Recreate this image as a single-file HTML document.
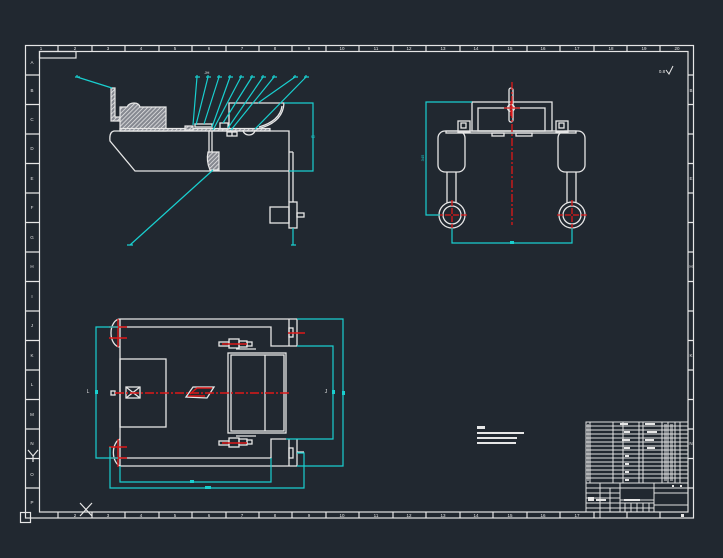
<!DOCTYPE html>
<html><head><meta charset="utf-8"><style>
html,body{margin:0;padding:0;background:#212830;}
svg{display:block;}
text{font-family:"Liberation Sans",sans-serif;}
</style></head><body>
<svg width="723" height="558" viewBox="0 0 723 558" xmlns="http://www.w3.org/2000/svg">
<defs>
<pattern id="h" width="3" height="3" patternUnits="userSpaceOnUse" patternTransform="rotate(45)">
<rect width="3" height="3" fill="#858890"/>
<line x1="0" y1="0" x2="0" y2="3" stroke="#ececec" stroke-width="1.5"/>
</pattern>
</defs>
<rect width="723" height="558" fill="#212830"/>

<!-- FRAME -->
<g fill="none" stroke="#e6e6e6" stroke-width="1.2">
<rect x="25.5" y="45.5" width="668" height="472.5"/>
<rect x="39.5" y="51.5" width="648.5" height="460.5"/>
<rect x="39.5" y="51.5" width="36.5" height="6.5"/>
<rect x="20.5" y="512.5" width="10" height="10"/>
<path d="M58,45.5V51.5M92,45.5V51.5M125,45.5V51.5M159,45.5V51.5M192,45.5V51.5M226,45.5V51.5M259,45.5V51.5M292,45.5V51.5M326,45.5V51.5M359,45.5V51.5M393,45.5V51.5M426,45.5V51.5M460,45.5V51.5M493,45.5V51.5M527,45.5V51.5M560,45.5V51.5M594,45.5V51.5M627,45.5V51.5M660,45.5V51.5"/>
<path d="M58,512V518M92,512V518M125,512V518M159,512V518M192,512V518M226,512V518M259,512V518M292,512V518M326,512V518M359,512V518M393,512V518M426,512V518M460,512V518M493,512V518M527,512V518M560,512V518M594,512V518M627,512V518M660,512V518"/>
<path d="M25.5,75H39.5M25.5,104.5H39.5M25.5,134H39.5M25.5,163.5H39.5M25.5,193H39.5M25.5,222.5H39.5M25.5,252H39.5M25.5,281.5H39.5M25.5,311H39.5M25.5,340.5H39.5M25.5,370H39.5M25.5,399.5H39.5M25.5,429H39.5M25.5,458.5H39.5M25.5,488H39.5"/>
<path d="M688,75H693.5M688,104.5H693.5M688,134H693.5M688,163.5H693.5M688,193H693.5M688,222.5H693.5M688,252H693.5M688,281.5H693.5M688,311H693.5M688,340.5H693.5M688,370H693.5M688,399.5H693.5M688,429H693.5M688,458.5H693.5M688,488H693.5"/>
<path d="M80,503L92,516M92,503L80,516M28,450L33,456L38,450M33,456V462"/>
</g>
<g fill="#e6e6e6" font-size="4.5" text-anchor="middle">
<text x="41" y="50">1</text><text x="75" y="50">2</text><text x="108" y="50">3</text><text x="141" y="50">4</text><text x="175" y="50">5</text><text x="209" y="50">6</text><text x="242" y="50">7</text><text x="275" y="50">8</text><text x="309" y="50">9</text><text x="342" y="50">10</text><text x="376" y="50">11</text><text x="409" y="50">12</text><text x="443" y="50">13</text><text x="476" y="50">14</text><text x="510" y="50">15</text><text x="543" y="50">16</text><text x="577" y="50">17</text><text x="611" y="50">18</text><text x="644" y="50">19</text><text x="677" y="50">20</text>
<text x="75" y="517">2</text><text x="108" y="517">3</text><text x="141" y="517">4</text><text x="175" y="517">5</text><text x="209" y="517">6</text><text x="242" y="517">7</text><text x="275" y="517">8</text><text x="309" y="517">9</text><text x="342" y="517">10</text><text x="376" y="517">11</text><text x="409" y="517">12</text><text x="443" y="517">13</text><text x="476" y="517">14</text><text x="510" y="517">15</text><text x="543" y="517">16</text><text x="577" y="517">17</text>
<text x="32" y="64">A</text><text x="32" y="92">B</text><text x="32" y="121">C</text><text x="32" y="150">D</text><text x="32" y="180">E</text><text x="32" y="209">F</text><text x="32" y="239">G</text><text x="32" y="268">H</text><text x="32" y="298">I</text><text x="32" y="327">J</text><text x="32" y="357">K</text><text x="32" y="386">L</text><text x="32" y="416">M</text><text x="32" y="445">N</text><text x="32" y="476">O</text><text x="32" y="504">P</text>
<text x="691" y="92">B</text><text x="691" y="180">E</text><text x="691" y="268">H</text><text x="691" y="357">K</text><text x="691" y="445">N</text>
<text x="662" y="73">0.8</text>
</g>
<path d="M666,70L669,74L673,66" fill="none" stroke="#e6e6e6" stroke-width="1"/>

<!-- SIDE VIEW -->
<g stroke="#e6e6e6" stroke-width="1.2">
<path d="M111,88H115V117H120V121H111Z" fill="url(#h)"/>
<path d="M120,131V107H127Q129,103 134,103Q139,103 140,107H166V131Z" fill="url(#h)"/>
<rect x="120" y="128.5" width="150" height="2.5" fill="url(#h)"/>
<rect x="185" y="126" width="8" height="4" fill="url(#h)"/>
<path d="M208,152H219V170H210Q206,161 208,152Z" fill="url(#h)"/>
</g>
<g fill="none" stroke="#e6e6e6" stroke-width="1.3">
<path d="M114,131H289V171H135L110,141Q109,132 114,131Z"/>
<path d="M209,131V152M212,131V152"/>
<path d="M229,129V103H284Q283,123 257,129"/>
<path d="M282,106Q280,121 259,127"/>
<rect x="220" y="123" width="8" height="6"/>
<rect x="195" y="124" width="17" height="3"/>
<rect x="227" y="132" width="10" height="4"/>
<path d="M232,132V136"/>
<path d="M243,130A6,5 0 0 0 255,130"/>
<path d="M289,171V202M293,152V202M289,152H293"/>
<rect x="289" y="202" width="8" height="26"/>
<rect x="270" y="207" width="19" height="16"/>
<rect x="297" y="213" width="7" height="4"/>
</g>
<g fill="none" stroke="#19cfcf" stroke-width="1.2">
<path d="M77,77L112,88M75,77H80M77,75V77"/>
<path d="M197,77L193,125M208,77L196,125M219,77L204,124M230,77L212,127M241,77L213,130M252,77L223,123M263,77L228,128M274,77L231,130M295,77L258,103M306,77L255,129"/>
<path d="M195,77H200M206,77H211M217,77H222M228,77H233M239,77H244M250,77H255M261,77H266M272,77H277M293,77H298M304,77H309"/>
<path d="M197,75V77M208,75V77M219,75V77M230,75V77M241,75V77M252,75V77M263,75V77M274,75V77M295,75V77M306,75V77"/>
<path d="M130,245L213,170M127,245H133M293,245L293,228M291,245H296"/>
<path d="M284,103H313V171H289"/>
</g>
<text x="207" y="74" fill="#e6e6e6" font-size="4" text-anchor="middle">JH</text>
<text x="313" y="138" fill="#19cfcf" font-size="4" text-anchor="middle">90</text>

<!-- FRONT VIEW -->
<g fill="none" stroke="#e6e6e6" stroke-width="1.3">
<rect x="472" y="102" width="80" height="29"/>
<rect x="478" y="108" width="67" height="23"/>
<rect x="446" y="131" width="130" height="2"/>
<rect x="458" y="121" width="12" height="11"/>
<rect x="461" y="123" width="5" height="5"/>
<rect x="556" y="121" width="12" height="11"/>
<rect x="559" y="123" width="5" height="5"/>
<rect x="492" y="133" width="12" height="3"/>
<rect x="516" y="133" width="16" height="3"/>
<rect x="438" y="131" width="27" height="41" rx="7"/>
<rect x="558" y="131" width="27" height="41" rx="7"/>
<path d="M447,172V203M456,172V203M567,172V203M576,172V203"/>
<circle cx="452" cy="215" r="13"/>
<circle cx="452" cy="215" r="9"/>
<circle cx="572" cy="215" r="13"/>
<circle cx="572" cy="215" r="9"/>
<rect x="509" y="88" width="4" height="34" rx="2"/>
<circle cx="511" cy="108" r="3.5"/>
</g>
<g fill="none" stroke="#dd1818" stroke-width="1.3">
<path d="M512,82V225" stroke-dasharray="8,2,2,2"/>
<path d="M504,108H520M511,101V116"/>
<path d="M437,215H467M452,200V230M557,215H587M572,200V230" stroke-dasharray="6,2"/>
</g>
<g fill="none" stroke="#19cfcf" stroke-width="1.2">
<path d="M472,102H426V215H440"/>
<path d="M452,228V243H572V228"/>
</g>
<text x="0" y="0" fill="#19cfcf" font-size="4" text-anchor="middle" transform="translate(424,158) rotate(-90)">345</text>
<rect x="510" y="241" width="4" height="3" fill="#19cfcf"/>

<!-- PLAN VIEW -->
<g fill="none" stroke="#e6e6e6" stroke-width="1.3">
<path d="M120,319H297M120,466H297M120,319V466"/>
<path d="M120,319A9,14 0 0 0 120,347M120,439A9,14 0 0 0 120,466"/>
<path d="M118,327H271V346H297M118,458H271V439H286"/>
<path d="M289,319V346M297,319V346M289,439V466M297,439V466"/>
<rect x="289" y="328" width="4" height="9"/>
<rect x="289" y="448" width="4" height="10"/>
<rect x="120" y="359" width="46" height="68"/>
<rect x="126" y="387" width="14" height="11"/>
<path d="M126,387L140,398M140,387L126,398"/>
<rect x="111" y="391" width="4" height="4"/>
<path d="M186,397L193,387H214L207,398Z"/>
<rect x="228" y="353" width="58" height="80"/>
<rect x="231" y="355" width="53" height="76"/>
<path d="M265,355V431"/>
<rect x="219" y="342" width="10" height="4"/>
<rect x="229" y="339" width="10" height="9"/>
<rect x="239" y="341" width="8" height="6"/>
<rect x="247" y="342" width="5" height="4"/>
<path d="M236,349H256"/>
<rect x="219" y="441" width="10" height="4"/>
<rect x="229" y="438" width="10" height="9"/>
<rect x="239" y="439" width="8" height="6"/>
<rect x="247" y="440" width="5" height="4"/>
<path d="M236,436H256"/>
<path d="M297,452H304"/>
</g>
<g fill="none" stroke="#dd1818" stroke-width="1.4">
<path d="M115,393H291" stroke-dasharray="9,2,2,2"/>
<path d="M109,327H127M109,338H127M118,319V347M109,447H127M109,458H127M118,439V467"/>
<path d="M222,344H247M222,443H247M288,333H305"/>
<path d="M190,394L197,388H212M188,396H205"/>
</g>
<g fill="none" stroke="#19cfcf" stroke-width="1.2">
<path d="M118,327H96V458H118"/>
<path d="M297,319H343V466H297"/>
<path d="M297,346H333V439H286"/>
<path d="M120,466V482H271V458"/>
<path d="M110,447V488H304V453H297"/>
</g>
<g fill="#19cfcf">
<rect x="95" y="390" width="3" height="4"/>
<rect x="332" y="390" width="3" height="4"/>
<rect x="342" y="391" width="3" height="4"/>
<rect x="190" y="480" width="4" height="3"/>
<rect x="205" y="486" width="6" height="3"/>
</g>
<text x="88" y="393" fill="#e6e6e6" font-size="5" text-anchor="middle">L</text>
<text x="326" y="393" fill="#e6e6e6" font-size="5" text-anchor="middle">J</text>

<!-- NOTES -->
<g fill="#e6e6e6">
<rect x="477" y="426" width="8" height="3"/>
<rect x="477" y="432" width="47" height="2"/>
<rect x="477" y="437" width="40" height="2"/>
<rect x="477" y="442" width="39" height="2"/>
</g>

<!-- TITLE BLOCK -->
<g fill="none" stroke="#e0e0e0" stroke-width="1">
<rect x="586" y="422" width="102" height="90"/>
<path d="M586,426H688M586,430H688M586,434H688M586,438H688M586,442H688M586,446H688M586,450H688M586,454H688M586,458H688M586,462H688M586,466H688M586,470H688M586,474H688M586,478H688M586,483H688"/>
<path d="M590,422V483M613,422V483M623,422V483M639,422V483M643,422V483M662,422V483M668,422V483M675,422V483M680,422V483"/>
<path d="M586,488H688M620,483V512M654,483V512M654,493H688M654,505H688M586,493H620M586,498H620M586,503H620M586,508H620M600,483V512M610,488V512M620,500H654M620,503H654M620,508H654M625,503V512M631,503V512M637,503V512M643,503V512M649,503V512"/>
<path d="M600,512V518M627,512V518M660,512V518"/>
</g>
<g fill="#e6e6e6">
<rect x="620" y="423" width="8" height="2"/><rect x="645" y="423" width="10" height="2"/>
<rect x="624" y="431" width="6" height="2"/><rect x="647" y="431" width="10" height="2"/>
<rect x="622" y="439" width="8" height="2"/><rect x="645" y="439" width="9" height="2"/>
<rect x="624" y="447" width="6" height="2"/><rect x="647" y="447" width="8" height="2"/>
<rect x="625" y="455" width="4" height="2"/><rect x="625" y="463" width="4" height="2"/><rect x="625" y="471" width="4" height="2"/><rect x="625" y="479" width="4" height="2"/>
<rect x="664" y="424" width="3" height="57" opacity="0.5"/><rect x="670" y="424" width="3" height="57" opacity="0.5"/>
<rect x="587" y="424" width="2" height="57" opacity="0.5"/>
<rect x="624" y="499" width="16" height="2"/>
<rect x="588" y="497" width="6" height="4"/><rect x="596" y="499" width="10" height="2"/>
<rect x="680" y="485" width="2" height="2"/><rect x="672" y="485" width="2" height="2"/>
<rect x="681" y="514" width="3" height="3"/>
</g>
</svg>
</body></html>
